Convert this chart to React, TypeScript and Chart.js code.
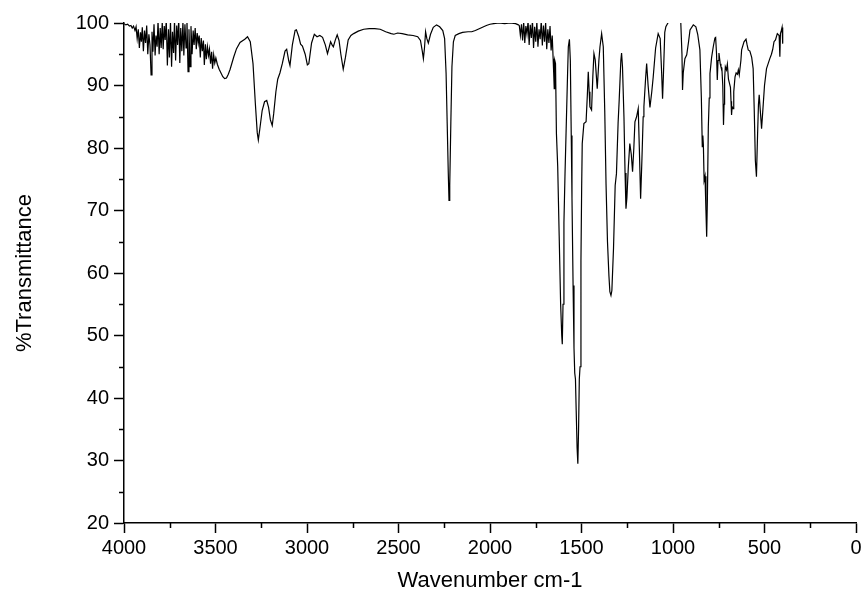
import React, { useEffect, useRef } from "react";
import { Chart, registerables } from "chart.js";

Chart.register(...registerables);

// ---- Data (wavenumber cm-1, %T) ----
// O-H / N-H region with noisy baseline
const noisyHighWn = [
  4000, 3990, 3980, 3970, 3962, 3955, 3948, 3940, 3934, 3928, 3922, 3916, 3910, 3905, 3900, 3894, 3888, 3882,
  3876, 3870, 3864, 3858, 3852, 3847, 3842, 3836, 3830, 3825, 3819, 3814, 3808, 3802, 3797, 3791, 3786, 3780,
  3775, 3769, 3763, 3757, 3752, 3746, 3740, 3735, 3729, 3724, 3718, 3712, 3707, 3701, 3695, 3690, 3684, 3678,
  3673, 3667, 3661, 3656, 3650, 3645, 3639, 3634, 3628, 3622, 3617, 3611, 3605, 3600, 3594, 3589, 3583, 3578,
  3572, 3566, 3561, 3555, 3550, 3544, 3538, 3533, 3527, 3521, 3516, 3510, 3504, 3498, 3490, 3480, 3470, 3460,
  3450, 3440,
];
const noisyHighT = [
  99.9, 99.7, 99.8, 99.5, 99.6, 99.2, 99.5, 98.8, 99.4, 97.5, 99.0, 96.0, 98.5, 97.0, 99.3, 95.5, 98.8, 96.8,
  99.6, 95.0, 98.2, 96.5, 91.7, 98.6, 95.4, 99.8, 94.8, 98.0, 96.2, 100.4, 95.0, 99.2, 96.0, 100.2, 95.8, 99.5,
  97.3, 100.5, 93.2, 99.0, 94.5, 100.3, 93.0, 98.6, 95.2, 100.4, 94.0, 99.6, 96.5, 100.6, 93.6, 99.2, 95.5, 100.2,
  94.8, 99.8, 96.0, 100.5, 92.2, 99.0, 93.0, 99.5, 95.0, 98.8, 96.5, 99.2, 95.8, 98.4, 96.8, 98.0, 94.5, 97.6,
  95.5, 97.2, 93.3, 96.6, 94.2, 96.2, 94.8, 95.8, 93.5, 95.4, 92.7, 94.9, 93.6, 94.4, 93.4, 92.6, 92.0, 91.4,
  91.1, 91.2,
];

// C-H stretch region up to the nitrile band and flat baseline
const midWn = [
  3430, 3420, 3400, 3385, 3366, 3340, 3325, 3310, 3295, 3282, 3272, 3266, 3258, 3245, 3232, 3220, 3210, 3200,
  3190, 3182, 3170, 3160, 3148, 3135, 3120, 3111, 3100, 3093, 3080, 3065, 3058, 3045, 3035, 3025, 3010, 2998,
  2990, 2975, 2960, 2945, 2930, 2915, 2900, 2888, 2878, 2871, 2863, 2856, 2845, 2835, 2825, 2815, 2802, 2790,
  2775, 2760, 2745, 2720, 2690, 2660, 2630, 2600, 2570, 2540, 2525, 2505, 2480, 2450, 2420, 2395, 2380, 2370,
  2364, 2358, 2352, 2345, 2337, 2325, 2310, 2292, 2275, 2258, 2248, 2240, 2234, 2228, 2224, 2220, 2214, 2208,
  2200, 2190, 2170, 2150, 2120, 2100, 2080, 2050, 2020, 2000, 1980, 1950, 1920, 1890, 1860, 1845,
];
const midT = [
  91.8, 92.6, 94.6, 95.9, 96.9, 97.4, 97.8, 97.0, 93.5, 87.0, 82.5, 81.3, 83.0, 86.0, 87.4, 87.6, 86.5, 84.5,
  83.6, 85.5, 89.0, 91.0, 92.0, 93.5, 95.5, 95.8, 94.0, 93.2, 96.5, 98.8, 98.9, 97.8, 96.6, 96.3, 95.0, 93.3,
  93.5, 96.8, 98.2, 97.8, 98.0, 97.7, 96.5, 95.1, 96.2, 97.0, 96.5, 96.2, 97.3, 98.1, 97.2, 95.0, 92.6, 94.5,
  97.3, 98.0, 98.3, 98.7, 99.0, 99.1, 99.1, 99.0, 98.6, 98.3, 98.2, 98.4, 98.3, 98.1, 98.0, 97.8, 97.2, 95.5,
  94.3, 96.0, 98.6, 97.5, 96.8, 98.2, 99.3, 99.7, 99.4, 98.8, 97.5, 92.0, 84.0, 76.0, 71.6, 74.0, 84.0, 93.0,
  97.0, 98.0, 98.3, 98.5, 98.6, 98.6, 98.8, 99.2, 99.6, 99.8, 99.9, 100.0, 99.9, 100.0, 99.9, 99.7,
];

// Noisy region before the strong aromatic / nitro bands
const noisyLowWn = [
  1840, 1834, 1828, 1822, 1816, 1810, 1804, 1798, 1792, 1786, 1780, 1774, 1768, 1762, 1756, 1750, 1744, 1738,
  1732, 1726, 1720, 1714, 1708, 1702, 1696, 1690, 1684, 1678, 1672, 1666, 1660,
];
const noisyLowT = [
  99.6, 98.0, 99.8, 97.2, 100.2, 96.8, 99.5, 98.2, 100.3, 96.5, 99.7, 97.6, 100.4, 96.0, 99.4, 97.0, 100.2, 96.2,
  99.0, 97.4, 100.3, 96.4, 99.6, 97.0, 100.1, 95.8, 99.0, 96.8, 99.5, 95.6, 98.0,
];

// Fingerprint region
const fingerprintWn = [
  1655, 1652, 1649, 1646, 1642, 1637, 1630, 1622, 1614, 1608, 1605, 1601, 1596, 1590, 1583, 1576, 1572, 1566,
  1561, 1556, 1552, 1546, 1541, 1537, 1533, 1529, 1524, 1520, 1516, 1512, 1508, 1503, 1499, 1496, 1487, 1475,
  1468, 1463, 1458, 1454, 1445, 1438, 1432, 1425, 1414, 1405, 1399, 1390, 1381, 1373, 1366, 1358, 1350, 1345,
  1339, 1334, 1325, 1316, 1309, 1300, 1294, 1285, 1281, 1276, 1268, 1262, 1257, 1252, 1244, 1236, 1228, 1221,
  1214, 1208, 1199, 1190, 1184, 1177, 1170, 1163, 1159, 1150, 1144, 1136, 1126, 1116, 1108, 1095, 1081, 1070,
  1062, 1057, 1052, 1045, 1039, 1026, 1016, 1000, 985, 970, 958, 951, 948, 944, 935, 925, 915, 907, 889, 875,
  865, 853, 845, 840, 837, 834, 830, 825, 820, 816, 812, 807, 802, 798, 789, 780, 771, 767, 762, 758, 754, 749,
  742, 738, 733, 728, 724, 721, 718, 714, 708, 703, 697, 691, 686, 683, 680, 677, 672, 668, 661, 655, 648, 643,
  638, 634, 629, 625, 612, 601, 595, 589, 580, 570, 562, 556, 550, 544, 538, 533, 529, 523, 516, 508, 500, 489,
  480, 471, 462, 455, 448, 440, 430, 420, 416, 413, 408, 404, 401, 400,
];
const fingerprintT = [
  94.3, 92.0, 89.5, 94.0, 93.5, 82.3, 77.0, 66.0, 55.0, 50.0, 48.6, 55.0, 68.0, 76.0, 84.0, 92.0, 96.2, 97.4,
  94.0, 82.0, 72.0, 58.0, 48.0, 44.0, 43.0, 38.0, 32.0, 29.5, 35.0, 43.0, 45.0, 62.0, 74.0, 80.7, 83.9, 84.2,
  88.5, 92.2, 89.0, 86.6, 86.1, 91.5, 95.1, 94.1, 89.5, 94.0, 96.2, 98.3, 96.2, 86.0, 74.3, 65.0, 59.5, 57.0,
  56.4, 57.2, 64.0, 74.0, 75.9, 84.0, 87.7, 94.0, 95.2, 93.0, 85.0, 76.0, 70.3, 72.0, 77.0, 80.7, 79.0, 76.2,
  80.0, 84.2, 85.0, 86.3, 80.0, 71.9, 78.0, 85.0, 86.6, 91.0, 93.5, 90.0, 86.5, 89.0, 91.4, 96.0, 98.3, 97.5,
  92.0, 87.9, 92.0, 98.5, 99.4, 100.1, 101.0, 101.5, 101.5, 101.0, 100.5, 95.0, 89.3, 92.0, 94.3, 94.9, 97.0, 98.9, 99.7, 99.4,
  98.2, 95.7, 88.0, 80.2, 82.0, 80.5, 74.8, 75.5, 70.0, 65.8, 72.0, 83.4, 88.0, 91.9, 94.5, 96.2, 97.6, 97.7, 95.0, 90.9, 94.0, 95.2,
  93.5, 93.0, 92.8, 90.0, 83.7, 87.0, 91.0, 93.0, 92.5, 93.4, 91.0, 90.3, 89.7, 87.5, 85.3, 86.6, 86.3, 89.0, 91.4, 92.0, 91.8, 92.5,
  91.7, 91.7, 94.0, 95.7, 97.0, 97.4, 96.5, 95.7, 95.5, 94.5, 92.7, 86.0, 78.0, 75.4, 82.0, 87.0, 88.5, 86.0, 83.1, 86.5, 90.0, 92.7,
  93.5, 94.3, 95.0, 95.8, 97.0, 97.3, 98.3, 98.0, 94.6, 98.3, 98.8, 99.3, 99.3, 96.7,
];

const xTickValues = [4000, 3500, 3000, 2500, 2000, 1500, 1000, 500, 0];
const yTickValues = [20, 30, 40, 50, 60, 70, 80, 90, 100];
const xMinorTicks = [3750, 3250, 2750, 2250, 1750, 1250, 750, 250];
const yMinorTicks = [25, 35, 45, 55, 65, 75, 85, 95];

const xTitle = "Wavenumber cm-1";
const yTitle = "%Transmittance";

function zip(wn: number[], t: number[]) {
  const out: { x: number; y: number }[] = [];
  for (let i = 0; i < Math.min(wn.length, t.length); i++) out.push({ x: wn[i], y: t[i] });
  return out;
}

const FONT = "'Liberation Sans', Arial, sans-serif";

const minorTickPlugin = {
  id: "minorTicks",
  afterDraw(chart: any) {
    const { ctx, chartArea, scales } = chart;
    ctx.save();
    ctx.strokeStyle = "#000";
    ctx.lineWidth = 1.5;
    ctx.beginPath();
    xMinorTicks.forEach((v) => {
      const px = Math.round(scales.x.getPixelForValue(v)) + 0.5;
      ctx.moveTo(px, chartArea.bottom);
      ctx.lineTo(px, chartArea.bottom + 5);
    });
    yMinorTicks.forEach((v) => {
      const py = Math.round(scales.y.getPixelForValue(v)) + 0.5;
      ctx.moveTo(chartArea.left, py);
      ctx.lineTo(chartArea.left - 5, py);
    });
    ctx.stroke();
    ctx.restore();
  },
};

export default function App() {
  const ref = useRef<HTMLCanvasElement | null>(null);

  useEffect(() => {
    if (!ref.current) return;
    const data = [
      ...zip(noisyHighWn, noisyHighT),
      ...zip(midWn, midT),
      ...zip(noisyLowWn, noisyLowT),
      ...zip(fingerprintWn, fingerprintT),
    ];
    const chart = new Chart(ref.current, {
      type: "line",
      data: {
        datasets: [
          {
            data,
            borderColor: "#000",
            borderWidth: 1.2,
            pointRadius: 0,
            tension: 0,
            fill: false,
          },
        ],
      },
      options: {
        animation: false,
        responsive: false,
        devicePixelRatio: 1,
        layout: { padding: { top: 23, right: 11, left: 0, bottom: 0 } },
        plugins: { legend: { display: false }, tooltip: { enabled: false } },
        scales: {
          x: {
            type: "linear",
            min: 0,
            max: 4000,
            reverse: true,
            afterFit: (s: any) => {
              s.height = 75;
            },
            afterBuildTicks: (s: any) => {
              s.ticks = xTickValues.map((v) => ({ value: v }));
            },
            border: { display: true, color: "#000", width: 1.5 },
            grid: { drawOnChartArea: false, drawTicks: true, tickLength: 10, tickColor: "#000", tickWidth: 1.5 },
            ticks: {
              color: "#000",
              font: { family: FONT, size: 20 },
              padding: 3,
              maxRotation: 0,
              autoSkip: false,
              callback: (v: any) => String(v),
            },
            title: {
              display: true,
              text: xTitle,
              color: "#000",
              font: { family: FONT, size: 22 },
              padding: { top: 0, bottom: 4 },
            },
          },
          y: {
            type: "linear",
            min: 20,
            max: 100,
            afterFit: (s: any) => {
              s.width = 124;
            },
            afterBuildTicks: (s: any) => {
              s.ticks = yTickValues.map((v) => ({ value: v }));
            },
            border: { display: true, color: "#000", width: 1.5 },
            grid: { drawOnChartArea: false, drawTicks: true, tickLength: 10, tickColor: "#000", tickWidth: 1.5 },
            ticks: {
              color: "#000",
              font: { family: FONT, size: 20 },
              padding: 5,
              autoSkip: false,
              callback: (v: any) => String(v),
            },
            title: {
              display: true,
              text: yTitle,
              color: "#000",
              font: { family: FONT, size: 22 },
              padding: { top: 12, bottom: 0 },
            },
          },
        },
      },
      plugins: [minorTickPlugin],
    });
    return () => chart.destroy();
  }, []);

  return (
    <div style={{ position: "absolute", left: 0, top: 0, width: 867, height: 598, background: "#fff" }}>
      <canvas ref={ref} width={867} height={598} style={{ display: "block" }} />
    </div>
  );
}
